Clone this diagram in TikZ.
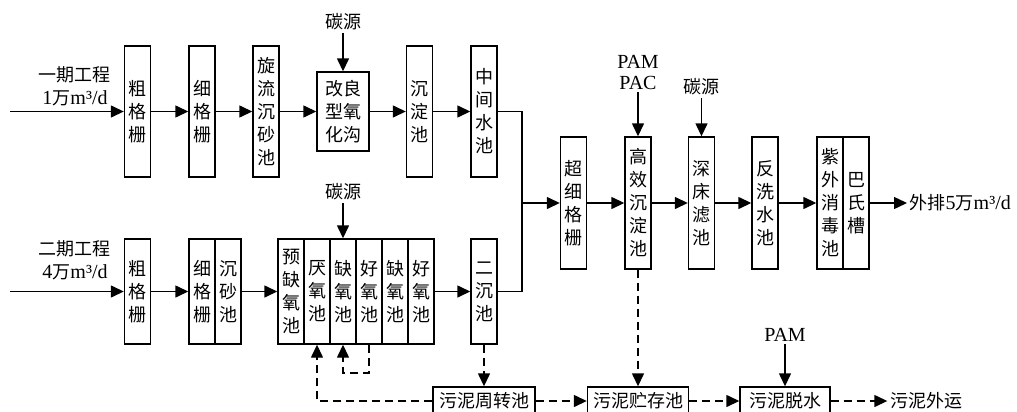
\documentclass[tikz,border=0pt]{standalone}
\usepackage{fontspec}
\setmainfont{Liberation Serif}
\newfontfamily\cjk{Noto Sans CJK SC}
\newcommand{\zhtext}[1]{{\cjk\fontsize{9}{11.5}\selectfont#1}}
\usetikzlibrary{arrows.meta}

\begin{document}
\begin{tikzpicture}[x=0.5pt,y=-0.5pt,line width=0.7pt,>={Triangle[length=6.5pt,width=6pt]},
      b/.style={rectangle,draw,inner sep=0pt,minimum width=13pt,align=center,font=\cjk\fontsize{9}{11.5}\selectfont},
      t/.style={b,minimum height=65.5pt},
      u/.style={b,minimum height=52.5pt},
      r/.style={b,minimum height=66pt},
      s/.style={b,minimum height=14pt},
      l/.style={inner sep=1pt,align=center,font=\fontsize{10}{11.5}\selectfont},
      d/.style={dash pattern=on 4pt off 2.5pt}]
    \useasboundingbox (0,0) rectangle (1017,412);
    \node[t] (cgA) at (137.5,111.5) {粗\\格\\栅};
    \node[t] (xgA) at (202,111.5) {细\\格\\栅};
    \node[t] (xlA) at (266,111.5) {旋\\流\\沉\\砂\\池};
    \node[b,minimum width=26pt,minimum height=39.5pt] (gl) at (343,111.5) {改良\\型氧\\化沟};
    \node[t] (cdA) at (419.5,111.5) {沉\\淀\\池};
    \node[t] (zjA) at (484,111.5) {中\\间\\水\\池};
    \node[u] (cgB) at (137.5,291.5) {粗\\格\\栅};
    \node[u] (xgB) at (202,291.5) {细\\格\\栅};
    \node[u] (csB) at (228,291.5) {沉\\砂\\池};
    \node[u] (y1) at (291,291.5) {预\\缺\\氧\\池};
    \node[u] (y2) at (317,291.5) {厌\\氧\\池};
    \node[u] (y3) at (343,291.5) {缺\\氧\\池};
    \node[u] (y4) at (369,291.5) {好\\氧\\池};
    \node[u] (y5) at (395,291.5) {缺\\氧\\池};
    \node[u] (y6) at (421,291.5) {好\\氧\\池};
    \node[u] (ecB) at (484,291.5) {二\\沉\\池};
    \node[r] (cx) at (573.5,203) {超\\细\\格\\栅};
    \node[r] (gx) at (638,203) {高\\效\\沉\\淀\\池};
    \node[r] (sc) at (701.5,203) {深\\床\\滤\\池};
    \node[r] (fx) at (765,203) {反\\洗\\水\\池};
    \node[r] (zw) at (830,203) {紫\\外\\消\\毒\\池};
    \node[r] (bs) at (856,203) {巴\\氏\\槽};
    \node[s,minimum width=51pt] (zz) at (484,401) {污泥周转池};
    \node[s,minimum width=50.5pt] (zc) at (638,401) {污泥贮存池};
    \node[s,minimum width=45pt] (ts) at (785,401) {污泥脱水};
    \node[l] (yw) at (926,401) {\zhtext{污泥外运}};
    \node[l] (inA) at (75,86.5) {\zhtext{一期工程}\\1\zhtext{万}m³/d};
    \node[l] (inB) at (75,260) {\zhtext{二期工程}\\4\zhtext{万}m³/d};
    \node[l] (tyA) at (343,22) {\zhtext{碳源}};
    \node[l] (tyB) at (343,192) {\zhtext{碳源}};
    \node[l,font=\fontsize{10}{10.5}\selectfont] (pp) at (638,72.5) {PAM\\PAC};
    \node[l] (tyC) at (701.5,87) {\zhtext{碳源}};
    \node[l] (pm) at (785,335) {PAM};
    \node[l,anchor=west] (pc) at (907,203) {\zhtext{外排}5\zhtext{万}m³/d};
    \coordinate (sA) at (10,111.5);
    \coordinate (sB) at (10,291.5);
    \coordinate (jn) at (522,203);
    \coordinate (hl) at (356,373);
    \draw[->] (sA)--(cgA);
    \draw[->] (cgA)--(xgA);
    \draw[->] (xgA)--(xlA);
    \draw[->] (xlA)--(gl);
    \draw[->] (gl)--(cdA);
    \draw[->] (cdA)--(zjA);
    \draw[->] (tyA)--(gl);
    \draw[->] (sB)--(cgB);
    \draw[->] (cgB)--(xgB);
    \draw[->] (csB)--(y1);
    \draw[->] (y6)--(ecB);
    \draw[->] (tyB)--(y3);
    \draw (zjA) -| (jn);
    \draw (ecB) -| (jn);
    \draw[->] (jn)--(cx);
    \draw[->] (cx)--(gx);
    \draw[->] (gx)--(sc);
    \draw[->] (sc)--(fx);
    \draw[->] (fx)--(zw);
    \draw[->] (bs)--(pc);
    \draw[->] (pp)--(gx);
    \draw[->] (tyC)--(sc);
    \draw[->] (pm)--(ts);
    \draw[->,d] (ecB)--(zz);
    \draw[->,d] (zz) -| (y2);
    \draw[->,d] (y4) |- (hl) -| (y3);
    \draw[->,d] (zz)--(zc);
    \draw[->,d] (gx)--(zc);
    \draw[->,d] (zc)--(ts);
    \draw[->,d] (ts)--(yw);
  \end{tikzpicture}
\end{document}
